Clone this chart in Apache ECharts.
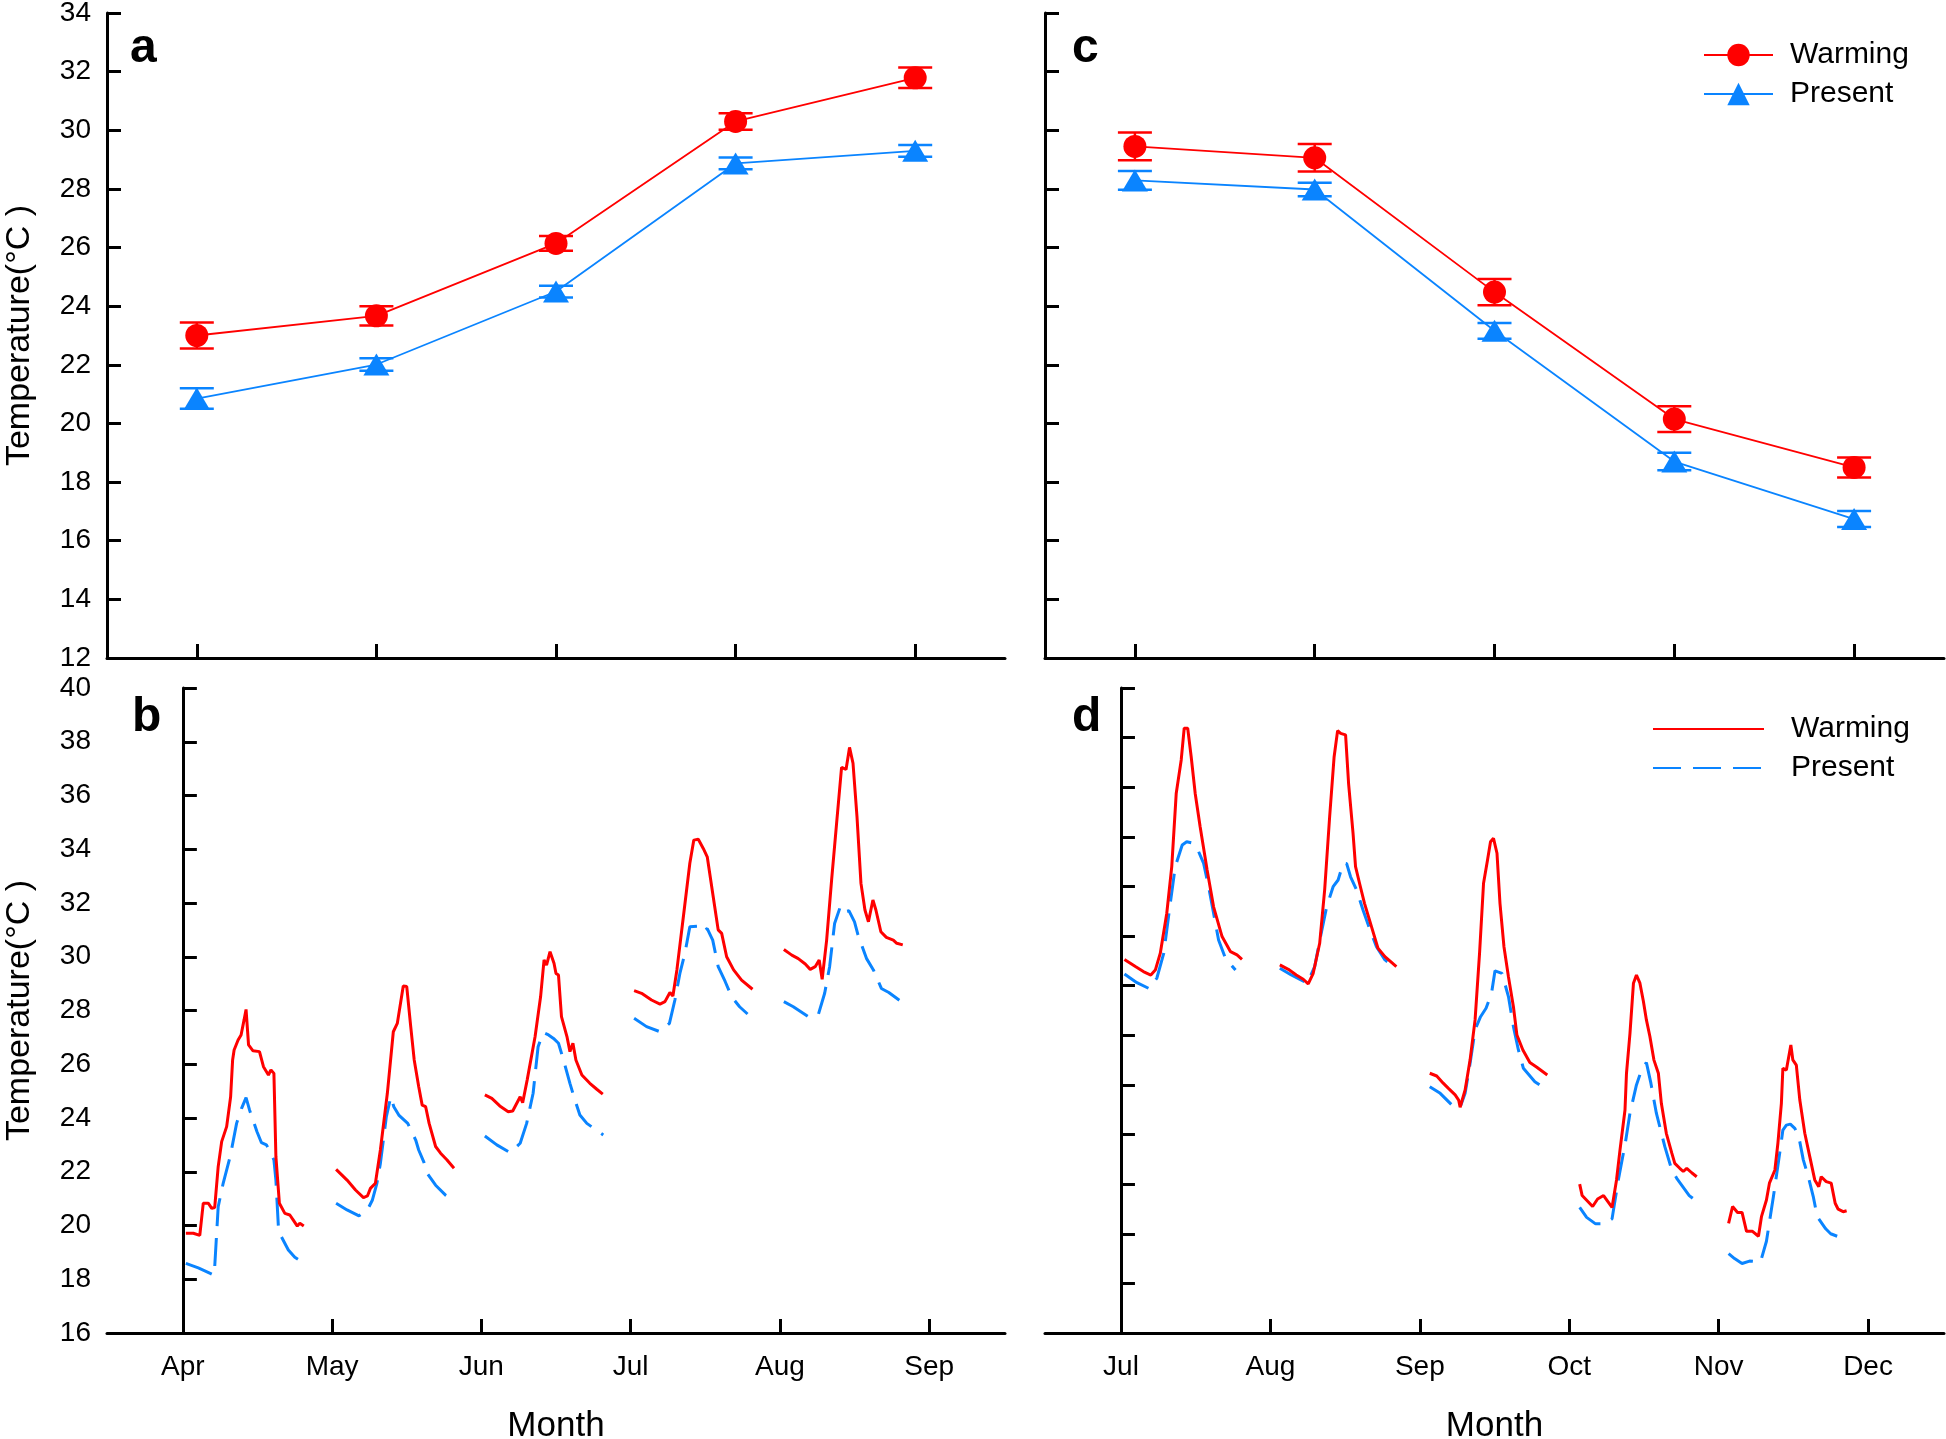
<!DOCTYPE html>
<html><head><meta charset="utf-8">
<script src="https://cdn.jsdelivr.net/npm/echarts@6/dist/echarts.min.js"></script>
<style>html,body{margin:0;padding:0;background:#fff}#c{width:1946px;height:1439px}</style>
</head><body><div id="c"></div>
<script>
// ---------- Panel a (monthly means, Apr-Aug) ----------
const monthsA = ['Apr', 'May', 'Jun', 'Jul', 'Aug'];
const warmingA = [23.0, 23.67, 26.14, 30.3, 31.79];
const warmingAErr = [0.44, 0.33, 0.25, 0.28, 0.35];
const presentA = [20.85, 22.01, 24.5, 28.87, 29.3];
const presentAErr = [0.35, 0.21, 0.2, 0.2, 0.2];

// ---------- Panel c (monthly means, Jul-Nov) ----------
const monthsC = ['Jul', 'Aug', 'Sep', 'Oct', 'Nov'];
const warmingC = [29.45, 29.06, 24.48, 20.15, 18.5];
const warmingCErr = [0.47, 0.47, 0.45, 0.44, 0.34];
const presentC = [28.29, 27.98, 23.16, 18.7, 16.74];
const presentCErr = [0.32, 0.23, 0.27, 0.3, 0.27];

// ---------- Panel b/d tick labels ----------
const monthLabelsB = ['Apr', 'May', 'Jun', 'Jul', 'Aug', 'Sep'];
const monthLabelsD = ['Jul', 'Aug', 'Sep', 'Oct', 'Nov', 'Dec'];

// ---------- Panel b diurnal curves: [hour, temperature] ----------
const bWarmApr = [[0.6,19.71],[2.1,19.71],[3.4,19.63],[4.1,20.83],[5.1,20.83],[5.8,20.64],[6.4,20.67],[7.1,22.19],[7.8,23.12],[8.8,23.68],[9.6,24.79],[10.0,26.16],[10.3,26.53],[11.1,26.9],[11.7,27.09],[12.3,27.65],[12.7,28.04],[13.2,26.72],[14.1,26.5],[15.4,26.47],[16.2,25.91],[17.2,25.6],[17.7,25.79],[18.3,25.66],[18.7,22.56],[19.4,20.83],[20.5,20.45],[21.5,20.39],[22.2,20.2],[23.0,19.98],[23.5,20.08],[24.3,19.98]];
const bPresApr = [[0.6,18.59],[3.1,18.42],[5.5,18.22],[6.3,18.15],[7.1,20.7],[8.1,21.57],[9.5,22.56],[10.8,23.8],[11.8,24.36],[12.7,24.76],[13.4,24.3],[14.9,23.49],[15.8,23.08],[16.8,23.0],[18.3,22.44],[18.7,21.69],[19.2,19.95],[19.8,19.58],[21.2,19.09],[22.5,18.82],[24.2,18.62]];
const bWarmMay = [[0.8,22.09],[3.0,21.69],[4.7,21.32],[6.3,21.04],[7.1,21.1],[7.7,21.38],[8.7,21.57],[9.7,22.81],[11.1,24.92],[12.3,27.21],[13.1,27.52],[14.3,28.91],[15.0,28.89],[15.8,27.4],[16.5,26.16],[17.4,25.17],[18.1,24.48],[18.8,24.42],[19.5,23.8],[20.8,22.94],[21.8,22.69],[23.1,22.44],[24.5,22.13]];
const bPresMay = [[0.8,20.83],[3.0,20.58],[5.4,20.36],[7.1,20.58],[8.1,20.95],[9.0,21.57],[9.7,22.31],[10.9,24.05],[11.8,24.79],[12.4,24.42],[13.4,24.11],[15.2,23.8],[16.8,23.18],[17.4,22.81],[18.4,22.38],[19.1,21.94],[20.8,21.5],[22.8,21.13],[24.5,20.92]];
const bWarmJun = [[0.7,24.86],[2.1,24.73],[3.7,24.45],[5.4,24.23],[6.3,24.26],[7.8,24.79],[8.3,24.57],[9.2,25.41],[10.8,27.03],[11.9,28.51],[12.6,29.88],[13.1,29.69],[13.8,30.19],[14.6,29.76],[15.0,29.38],[15.5,29.32],[16.1,27.77],[17.2,27.03],[17.8,26.47],[18.4,26.78],[19.0,26.16],[20.2,25.6],[21.8,25.29],[23.2,25.07],[24.4,24.89]];
const bPresJun = [[0.7,23.33],[3.1,23.0],[5.8,22.71],[7.8,23.06],[9.1,23.8],[10.4,24.92],[11.4,26.65],[12.4,27.18],[13.5,27.09],[14.5,26.96],[15.5,26.78],[16.5,26.16],[17.8,25.29],[18.8,24.67],[19.8,24.11],[21.2,23.8],[24.5,23.37]];
const bWarmJul = [[0.7,28.74],[2.2,28.64],[4.2,28.39],[5.9,28.24],[6.9,28.33],[7.9,28.67],[8.5,28.54],[9.3,29.51],[10.6,31.49],[11.9,33.48],[12.7,34.34],[13.6,34.37],[14.6,34.03],[15.4,33.72],[16.6,32.23],[17.6,31.0],[18.3,30.87],[19.3,30.0],[20.7,29.51],[22.3,29.13],[24.5,28.79]];
const bPresJul = [[0.7,27.71],[3.2,27.4],[5.9,27.21],[7.8,27.52],[8.9,28.39],[9.9,29.38],[10.9,30.12],[11.9,31.12],[13.6,31.14],[14.6,30.93],[15.4,31.05],[16.5,30.62],[17.6,29.63],[19.0,29.08],[20.3,28.51],[21.9,28.14],[23.5,27.87]];
const bWarmAug = [[0.8,30.27],[2.4,30.06],[3.7,29.93],[5.1,29.73],[6.1,29.53],[7.1,29.63],[7.9,29.88],[8.5,29.16],[9.4,30.62],[10.4,32.86],[11.4,34.96],[12.4,37.05],[13.3,36.97],[14.0,37.79],[14.7,37.2],[15.5,35.21],[16.3,32.73],[17.1,31.74],[17.8,31.3],[18.7,32.11],[19.3,31.74],[20.3,30.93],[21.4,30.72],[22.8,30.62],[23.5,30.5],[24.7,30.44]];
const bPresAug = [[0.8,28.33],[2.7,28.14],[5.7,27.77],[7.7,27.83],[9.0,28.64],[10.0,29.63],[11.0,31.24],[12.2,31.89],[13.0,31.68],[13.9,31.71],[15.0,31.3],[15.7,30.81],[17.4,29.94],[18.8,29.51],[20.4,28.82],[21.9,28.67],[24.4,28.33]];

// ---------- Panel d diurnal curves: [hour, temperature] ----------
const dWarmJul = [[0.7,27.06],[2.9,26.77],[4.5,26.57],[6.0,26.43],[6.9,26.63],[7.9,27.31],[9.2,28.92],[10.2,30.8],[11.1,33.76],[12.1,35.1],[12.7,36.38],[13.4,36.38],[14.1,35.23],[14.9,33.76],[15.9,32.41],[17.3,30.66],[18.6,29.18],[20.3,27.98],[22.0,27.37],[23.3,27.24],[24.3,27.06]];
const dPresJul = [[0.7,26.47],[3.2,26.12],[5.7,25.88],[7.2,26.3],[8.6,27.31],[9.9,29.32],[10.9,30.8],[12.3,31.67],[13.2,31.8],[14.3,31.75],[15.3,31.54],[16.6,30.93],[17.6,29.99],[18.6,28.92],[19.6,27.84],[21.0,27.1],[23.0,26.63]];
const dWarmAug = [[1.9,26.84],[3.6,26.66],[5.2,26.43],[6.6,26.26],[7.6,26.07],[8.6,26.5],[9.9,27.71],[10.9,29.86],[11.9,32.81],[12.8,35.23],[13.5,36.28],[14.1,36.17],[15.1,36.11],[15.7,34.16],[16.6,32.14],[17.1,30.8],[17.9,30.13],[18.9,29.32],[20.3,28.38],[21.6,27.51],[23.0,27.17],[25.3,26.77]];
const dPresAug = [[1.9,26.7],[4.2,26.43],[7.4,26.1],[8.9,26.77],[10.2,28.11],[11.3,29.18],[12.6,29.99],[13.6,30.26],[14.6,30.93],[15.3,30.93],[16.1,30.39],[17.3,29.86],[18.6,29.05],[20.0,28.25],[21.3,27.57],[23.0,27.04],[25.3,26.7]];
const dWarmSep = [[2.0,22.47],[3.4,22.36],[4.7,22.07],[5.7,21.87],[7.1,21.6],[7.8,21.39],[8.1,21.1],[9.1,21.8],[10.1,23.01],[11.1,24.62],[12.0,27.31],[12.8,30.13],[13.6,31.07],[14.2,31.8],[14.8,31.94],[15.5,31.34],[16.1,29.32],[16.9,27.57],[17.8,26.36],[18.8,25.15],[19.5,24.01],[20.7,23.41],[22.1,22.9],[23.5,22.71],[25.6,22.4]];
const dPresSep = [[2.0,21.93],[4.1,21.66],[6.8,21.12],[8.1,21.1],[9.1,21.66],[10.1,22.87],[11.1,24.22],[12.2,24.75],[13.3,25.09],[14.4,25.69],[15.1,26.6],[16.5,26.5],[17.8,25.56],[18.8,24.35],[19.8,23.41],[20.8,22.67],[23.1,22.13],[25.6,21.8]];
const dWarmOct = [[2.1,18.0],[2.6,17.54],[4.7,17.1],[5.7,17.4],[6.9,17.54],[8.6,17.06],[9.5,18.17],[10.2,19.38],[11.2,20.99],[11.5,22.47],[12.2,24.08],[12.9,26.1],[13.5,26.43],[14.2,26.1],[14.9,25.36],[15.5,24.62],[16.2,23.95],[17.0,23.01],[17.9,22.47],[18.5,21.26],[19.5,20.05],[20.6,19.25],[21.2,18.84],[22.2,18.64],[22.9,18.51],[23.6,18.64],[24.6,18.46],[25.6,18.3]];
const dPresOct = [[2.1,17.06],[3.5,16.66],[5.3,16.4],[7.2,16.4],[8.6,16.6],[9.8,18.1],[11.3,19.7],[12.2,20.86],[13.5,22.0],[14.7,22.71],[15.5,22.9],[16.4,22.07],[17.5,20.86],[19.2,19.51],[20.6,18.57],[21.7,18.2],[24.1,17.54],[25.9,17.26]];
const dWarmNov = [[2.0,16.42],[2.8,17.1],[3.8,16.86],[4.7,16.86],[5.6,16.1],[6.8,16.1],[8.0,15.9],[8.6,16.69],[9.6,17.36],[10.2,18.04],[11.3,18.57],[11.9,19.65],[12.6,21.26],[12.9,22.67],[13.6,22.6],[14.5,23.61],[14.9,23.01],[15.6,22.8],[16.3,21.39],[17.3,20.05],[18.3,19.11],[19.3,18.17],[20.1,17.9],[20.6,18.3],[21.6,18.1],[22.6,18.04],[23.4,17.23],[24.0,16.99],[25.0,16.89],[25.7,16.93]];
const dPresNov = [[2.0,15.2],[3.2,15.0],[4.7,14.8],[6.2,14.9],[8.4,14.86],[9.6,15.7],[11.0,17.5],[12.3,19.3],[12.9,20.18],[13.6,20.38],[14.4,20.42],[15.3,20.25],[16.1,19.91],[17.0,18.98],[18.0,18.3],[19.0,17.5],[19.8,16.69],[21.5,16.2],[22.5,16.0],[23.8,15.9]];

const bWarm = [bWarmApr, bWarmMay, bWarmJun, bWarmJul, bWarmAug];
const bPres = [bPresApr, bPresMay, bPresJun, bPresJul, bPresAug];
const dWarm = [dWarmJul, dWarmAug, dWarmSep, dWarmOct, dWarmNov];
const dPres = [dPresJul, dPresAug, dPresSep, dPresOct, dPresNov];

// ---------- styling ----------
const RED = '#ff0000';
const BLUE = '#0a84ff';
const FONT = "'Liberation Sans', Arial, sans-serif";
const DAYS_PER_MONTH = 30;

const chart = echarts.init(document.getElementById('c'), null, { renderer: 'canvas' });

const axisLineStyle = { show: true, lineStyle: { color: '#000', width: 3 } };
const tickStyle = { show: true, inside: true, length: 14, lineStyle: { color: '#000', width: 3 } };

function yAxisDef(gridIndex, min, max, showLabels) {
  return {
    type: 'value', gridIndex, min, max, interval: 2,
    axisLine: axisLineStyle, axisTick: tickStyle, splitLine: { show: false },
    axisLabel: { show: showLabels, fontSize: 28, color: '#000', fontFamily: FONT, margin: 16 },
    name: showLabels ? 'Temperature(°C )' : '', nameLocation: 'middle', nameGap: 70,
    nameTextStyle: { fontSize: 34, color: '#000', fontFamily: FONT }
  };
}
function catXAxis(gridIndex, cats) {
  return {
    type: 'category', gridIndex, data: cats, boundaryGap: true,
    axisLine: axisLineStyle,
    axisTick: Object.assign({ alignWithLabel: true }, tickStyle),
    axisLabel: { show: false }, splitLine: { show: false }
  };
}
function timeXAxis(gridIndex, labels) {
  const ticks = labels.map((_, i) => i * DAYS_PER_MONTH);
  return {
    type: 'value', gridIndex, min: -15.25, max: 165.25,
    axisLine: axisLineStyle,
    axisTick: Object.assign({ customValues: ticks }, tickStyle),
    axisLabel: { show: true, customValues: ticks, fontSize: 28, color: '#000', fontFamily: FONT, margin: 20,
      formatter: v => labels[Math.round(v / DAYS_PER_MONTH)] || '' },
    splitLine: { show: false },
    name: 'Month', nameLocation: 'middle', nameGap: 76,
    nameTextStyle: { fontSize: 35, color: '#000', fontFamily: FONT }
  };
}

function errSeries(axisIdx, vals, errs, color) {
  return {
    type: 'custom', xAxisIndex: axisIdx, yAxisIndex: axisIdx, silent: true, z: 1,
    data: vals.map((v, i) => [i, v - errs[i], v + errs[i]]),
    encode: { x: 0, y: [1, 2] },
    renderItem: function (params, api) {
      const lo = api.coord([api.value(0), api.value(1)]);
      const hi = api.coord([api.value(0), api.value(2)]);
      const hw = 17;
      const st = { stroke: color, lineWidth: 2.5 };
      return { type: 'group', children: [
        { type: 'line', shape: { x1: lo[0], y1: lo[1], x2: hi[0], y2: hi[1] }, style: st },
        { type: 'line', shape: { x1: lo[0] - hw, y1: lo[1], x2: lo[0] + hw, y2: lo[1] }, style: st },
        { type: 'line', shape: { x1: hi[0] - hw, y1: hi[1], x2: hi[0] + hw, y2: hi[1] }, style: st }
      ] };
    }
  };
}
function meanSeries(axisIdx, name, vals, color, symbol, size) {
  return {
    type: 'line', name, xAxisIndex: axisIdx, yAxisIndex: axisIdx, data: vals,
    symbol, symbolSize: size, showSymbol: true, z: 3,
    lineStyle: { color, width: 1.8 }, itemStyle: { color }
  };
}
function diurnalSeries(axisIdx, name, arr, monthIdx, color, dashed) {
  return {
    type: 'line', name, xAxisIndex: axisIdx, yAxisIndex: axisIdx,
    data: arr.map(p => [monthIdx * DAYS_PER_MONTH + p[0], p[1]]),
    symbol: 'none', showSymbol: false, z: dashed ? 2 : 3,
    lineStyle: { color, width: 3, type: dashed ? [28, 12] : 'solid' }, itemStyle: { color }
  };
}

const series = [];
// a
series.push(errSeries(0, presentA, presentAErr, BLUE));
series.push(errSeries(0, warmingA, warmingAErr, RED));
series.push(meanSeries(0, 'Present', presentA, BLUE, 'triangle', [26, 22]));
series.push(meanSeries(0, 'Warming', warmingA, RED, 'circle', 23));
// c
series.push(errSeries(2, presentC, presentCErr, BLUE));
series.push(errSeries(2, warmingC, warmingCErr, RED));
series.push(meanSeries(2, 'Present', presentC, BLUE, 'triangle', [26, 22]));
series.push(meanSeries(2, 'Warming', warmingC, RED, 'circle', 23));
// b
bPres.forEach((arr, i) => series.push(diurnalSeries(1, 'Present ', arr, i, BLUE, true)));
bWarm.forEach((arr, i) => series.push(diurnalSeries(1, 'Warming ', arr, i, RED, false)));
// d
dPres.forEach((arr, i) => series.push(diurnalSeries(3, 'Present ', arr, i, BLUE, true)));
dWarm.forEach((arr, i) => series.push(diurnalSeries(3, 'Warming ', arr, i, RED, false)));

const letterFont = "bold 48px 'Liberation Sans', Arial, sans-serif";
const option = {
  animation: false,
  backgroundColor: '#fff',
  textStyle: { fontFamily: FONT },
  grid: [
    { left: 107, top: 13, width: 898, height: 645, outerBoundsMode: 'none', containLabel: false },
    { left: 107, top: 688, width: 898, height: 645, outerBoundsMode: 'none', containLabel: false },
    { left: 1045, top: 13, width: 899, height: 645, outerBoundsMode: 'none', containLabel: false },
    { left: 1045, top: 688, width: 899, height: 645, outerBoundsMode: 'none', containLabel: false }
  ],
  xAxis: [catXAxis(0, monthsA), timeXAxis(1, monthLabelsB), catXAxis(2, monthsC), timeXAxis(3, monthLabelsD)],
  yAxis: [yAxisDef(0, 12, 34, true), yAxisDef(1, 16, 40, true), yAxisDef(2, 12, 34, false), yAxisDef(3, 12, 38, false)],
  legend: [
    { data: ['Warming', 'Present'], orient: 'vertical', left: 1703, top: 40, padding: 0,
      itemWidth: 69, itemHeight: 28, itemGap: 9, selectedMode: false,
      textStyle: { fontSize: 30, color: '#000', fontFamily: FONT, padding: [0, 0, 0, 12] } },
    { data: ['Warming ', 'Present '], orient: 'vertical', left: 1652, top: 714, padding: 0,
      itemWidth: 111, itemHeight: 14, itemGap: 9, selectedMode: false, formatter: n => n.trim(),
      itemStyle: { opacity: 0, color: 'rgba(0,0,0,0)', borderWidth: 0 },
      textStyle: { fontSize: 30, color: '#000', fontFamily: FONT, padding: [0, 0, 0, 22] } }
  ],
  graphic: [
    { type: 'text', left: 130, top: 25, style: { text: 'a', font: letterFont, fill: '#000' } },
    { type: 'text', left: 132, top: 694, style: { text: 'b', font: letterFont, fill: '#000' } },
    { type: 'text', left: 1072, top: 25, style: { text: 'c', font: letterFont, fill: '#000' } },
    { type: 'text', left: 1072, top: 694, style: { text: 'd', font: letterFont, fill: '#000' } }
  ],
  series
};
chart.setOption(option);
</script></body></html>
